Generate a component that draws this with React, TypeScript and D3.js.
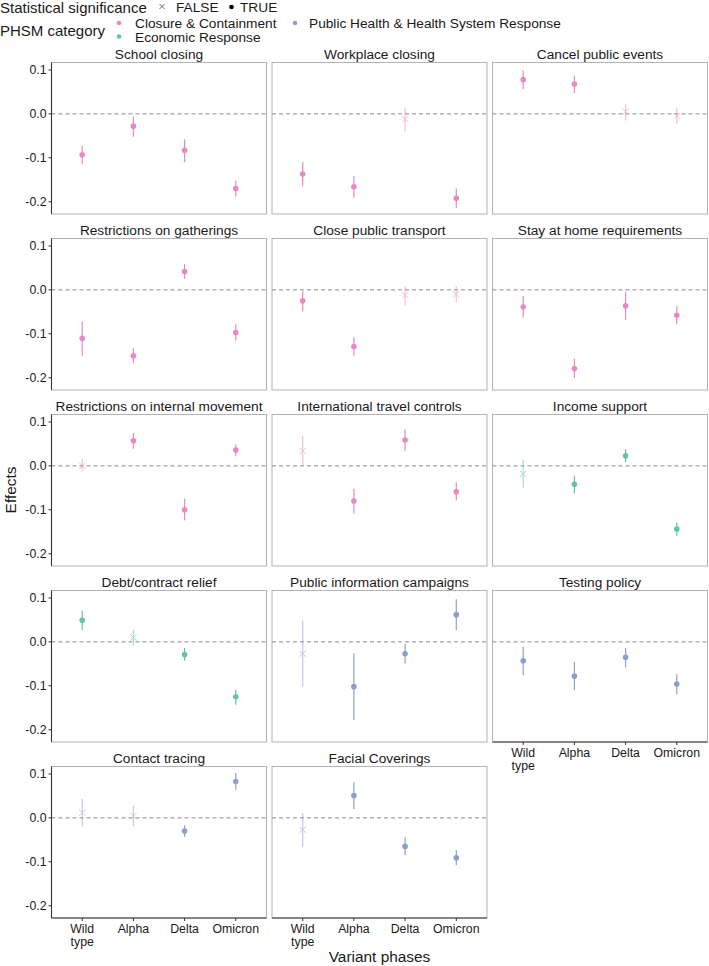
import React from "react";
import * as d3 from "d3";

const phases = ["Wild type", "Alpha", "Delta", "Omicron"];
const panelTitles = [
  "School closing", "Workplace closing", "Cancel public events",
  "Restrictions on gatherings", "Close public transport", "Stay at home requirements",
  "Restrictions on internal movement", "International travel controls", "Income support",
  "Debt/contract relief", "Public information campaigns", "Testing policy",
  "Contact tracing", "Facial Coverings",
];
const categories = ["Closure & Containment", "Economic Response", "Public Health & Health System Response"];
const categoryColors = ["#E78AC3", "#66C2A5", "#8DA0CB"];
const panelCategory = [0, 0, 0, 0, 0, 0, 0, 0, 1, 1, 2, 2, 2, 2];

const estimates = [
  [-0.093, -0.028, -0.083, -0.170],
  [-0.137, -0.166, -0.012, -0.192],
  [0.078, 0.068, 0.005, -0.005],
  [-0.110, -0.150, 0.042, -0.097],
  [-0.025, -0.129, -0.012, -0.010],
  [-0.039, -0.179, -0.036, -0.058],
  [0.000, 0.057, -0.100, 0.036],
  [0.034, -0.080, 0.059, -0.059],
  [-0.018, -0.042, 0.023, -0.144],
  [0.049, 0.010, -0.029, -0.125],
  [-0.027, -0.102, -0.027, 0.062],
  [-0.043, -0.078, -0.035, -0.096],
  [0.012, 0.004, -0.030, 0.083],
  [-0.027, 0.051, -0.065, -0.091],
];
const lowers = [
  [-0.114, -0.052, -0.110, -0.189],
  [-0.164, -0.191, -0.040, -0.215],
  [0.056, 0.047, -0.015, -0.023],
  [-0.150, -0.167, 0.025, -0.116],
  [-0.049, -0.150, -0.035, -0.027],
  [-0.063, -0.201, -0.068, -0.078],
  [-0.013, 0.039, -0.124, 0.022],
  [0.000, -0.109, 0.034, -0.079],
  [-0.049, -0.062, 0.008, -0.159],
  [0.027, -0.008, -0.043, -0.143],
  [-0.102, -0.178, -0.049, 0.027],
  [-0.076, -0.110, -0.058, -0.119],
  [-0.019, -0.018, -0.043, 0.064],
  [-0.067, 0.020, -0.085, -0.108],
];
const uppers = [
  [-0.073, -0.006, -0.058, -0.152],
  [-0.110, -0.141, 0.014, -0.170],
  [0.099, 0.087, 0.023, 0.013],
  [-0.072, -0.133, 0.059, -0.078],
  [-0.003, -0.108, 0.009, 0.008],
  [-0.014, -0.157, -0.004, -0.037],
  [0.016, 0.075, -0.075, 0.049],
  [0.068, -0.052, 0.082, -0.037],
  [0.014, -0.022, 0.038, -0.129],
  [0.071, 0.027, -0.014, -0.109],
  [0.048, -0.026, -0.005, 0.097],
  [-0.011, -0.046, -0.014, -0.074],
  [0.043, 0.027, -0.017, 0.102],
  [0.011, 0.081, -0.044, -0.073],
];
const significant = [
  [true, true, true, true],
  [true, true, false, true],
  [true, true, false, false],
  [true, true, true, true],
  [true, true, false, false],
  [true, true, true, true],
  [false, true, true, true],
  [false, true, true, true],
  [false, true, true, true],
  [true, false, true, true],
  [false, true, true, true],
  [true, true, true, true],
  [false, false, true, true],
  [false, true, true, true],
];
const yTicks = [0.1, 0.0, -0.1, -0.2];
const yTickLabels = ["0.1", "0.0", "-0.1", "-0.2"];

const FONT = "'Liberation Sans', Arial, Helvetica, sans-serif";
const W = 215;
const H = 151.5;
const colLeft = (c: number) => 51.5 + c * 220.5;
const rowTop = (r: number) => 62.5 + r * 176;
const AXIS = "#333333";
const BORDER = "#b3b3b3";
const TEXT = "#1a1a1a";

export default function App() {
  const nPanels = panelTitles.length;
  return (
    <svg width={709} height={966} style={{ position: "absolute", left: 0, top: 0, background: "#fff" }} fontFamily={FONT}>
      <rect x={0} y={0} width={709} height={966} fill="#fff" />
      {/* Legend */}
      <g fill={TEXT}>
        <text x={0} y={12.5} fontSize={15}>Statistical significance</text>
        <path d="M159.5,4L164.5,9M159.5,9L164.5,4" stroke="#555" strokeWidth={0.9} />
        <text x={176} y={12} fontSize={13.7}>FALSE</text>
        <circle cx={231.5} cy={7} r={2.3} fill="#000" />
        <text x={240} y={12} fontSize={13.7}>TRUE</text>
        <text x={0} y={36} fontSize={15}>PHSM category</text>
        <circle cx={119} cy={23} r={2.3} fill={categoryColors[0]} />
        <text x={135} y={27.8} fontSize={13.7}>{categories[0]}</text>
        <circle cx={119} cy={36.5} r={2.3} fill={categoryColors[1]} />
        <text x={135} y={41.5} fontSize={13.7}>{categories[1]}</text>
        <circle cx={295} cy={23} r={2.3} fill={categoryColors[2]} />
        <text x={309} y={27.8} fontSize={13.7}>{categories[2]}</text>
      </g>
      {panelTitles.map((title, i) => {
        const r = Math.floor(i / 3);
        const c = i % 3;
        const left = colLeft(c);
        const top = rowTop(r);
        const x = d3.scalePoint<string>().domain(phases).range([left, left + W]).padding(0.6);
        const y = d3.scaleLinear().domain([-0.228, 0.117]).range([top + H, top]);
        const color = categoryColors[panelCategory[i]];
        const showBottom = i + 3 >= nPanels;
        const showLeft = c === 0;
        return (
          <g key={title}>
            <text x={left + W / 2} y={top - 3.5} textAnchor="middle" fontSize={13.7} fill={TEXT}>{title}</text>
            <rect x={left} y={top} width={W} height={H} fill="#fff" stroke={BORDER} strokeWidth={1} />
            <line x1={left} x2={left + W} y1={y(0)} y2={y(0)} stroke="#8c8c8c" strokeWidth={1} strokeDasharray="4,3" />
            {phases.map((p, j) => {
              const cx = x(p)!;
              const sig = significant[i][j];
              const op = sig ? 1 : 0.55;
              const cy = y(estimates[i][j]);
              const s = 3.2;
              return (
                <g key={p} opacity={op}>
                  <line x1={cx} x2={cx} y1={y(lowers[i][j])} y2={y(uppers[i][j])} stroke={color} strokeWidth={1.2} />
                  {sig ? (
                    <circle cx={cx} cy={cy} r={2.8} fill={color} />
                  ) : (
                    <path d={`M${cx - s},${cy - s}L${cx + s},${cy + s}M${cx - s},${cy + s}L${cx + s},${cy - s}`} stroke={color} strokeWidth={1} fill="none" />
                  )}
                </g>
              );
            })}
            {showLeft && (
              <g>
                <line x1={left} x2={left} y1={top} y2={top + H} stroke={AXIS} strokeWidth={1.1} />
                {yTicks.map((t, k) => (
                  <g key={t}>
                    <line x1={left - 3} x2={left} y1={y(t)} y2={y(t)} stroke={AXIS} strokeWidth={1} />
                    <text x={left - 5} y={y(t) + 4.3} textAnchor="end" fontSize={12.3} fill={TEXT}>{yTickLabels[k]}</text>
                  </g>
                ))}
              </g>
            )}
            {showBottom && (
              <g>
                <line x1={left} x2={left + W} y1={top + H} y2={top + H} stroke={AXIS} strokeWidth={1.1} />
                {phases.map((p) => {
                  const lines = p === "Wild type" ? ["Wild", "type"] : [p];
                  return (
                    <g key={p}>
                      <line x1={x(p)!} x2={x(p)!} y1={top + H} y2={top + H + 3} stroke={AXIS} strokeWidth={1} />
                      {lines.map((ln, li) => (
                        <text key={ln} x={x(p)!} y={top + H + 14.5 + li * 13.3} textAnchor="middle" fontSize={12.3} fill={TEXT}>{ln}</text>
                      ))}
                    </g>
                  );
                })}
              </g>
            )}
          </g>
        );
      })}
      <text x={379.5} y={962} textAnchor="middle" fontSize={15.4} fill={TEXT}>Variant phases</text>
      <text transform={`translate(16,490) rotate(-90)`} textAnchor="middle" fontSize={15.4} fill={TEXT}>Effects</text>
    </svg>
  );
}
